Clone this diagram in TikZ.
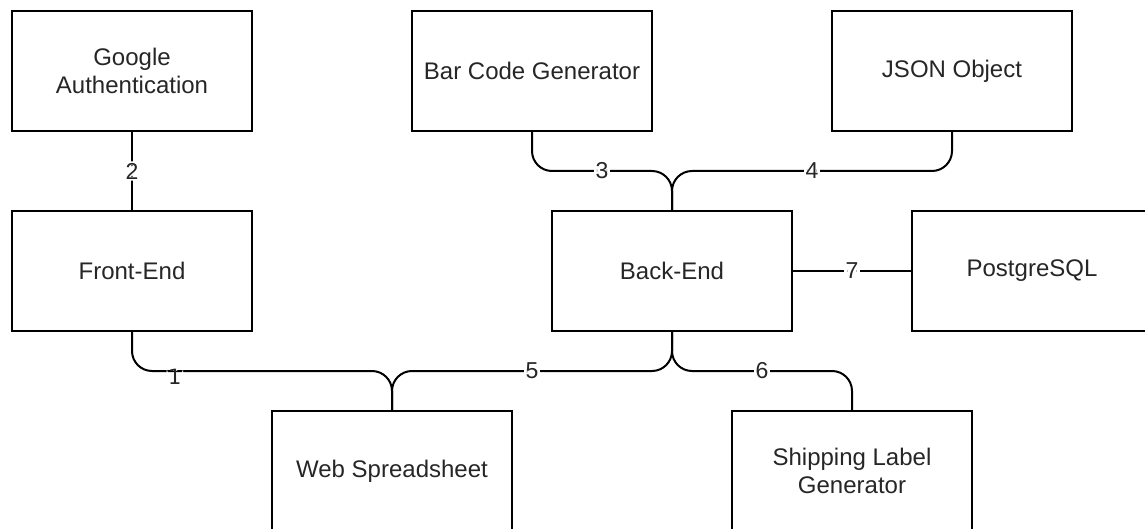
\documentclass[tikz,border=0pt]{standalone}
\usepackage{fontspec}
\setmainfont{Liberation Sans}
\newfontfamily\dejavu{DejaVu Sans}
\begin{document}
\begin{tikzpicture}[x=1pt,y=-1pt,
  box/.style={draw, line width=2pt, minimum width=240pt, minimum height=120pt, inner sep=0pt, align=center, text=black!85, font=\fontsize{24}{28}\selectfont},
  conn/.style={line width=2pt, rounded corners=20pt},
  lbl/.style={fill=white, inner sep=1.5pt, text=black!85, font=\fontsize{23}{26}\selectfont}]
\useasboundingbox (0,0) rectangle (1145,529);
\node[box] (ga) at (132,71) {Google\\Authentication};
\node[box] (bc) at (532,71) {Bar Code Generator};
\node[box] (json) at (952,71) {JSON Object};
\node[box] (fe) at (132,271) {Front-End};
\node[box] (be) at (672,271) {Back-End};
\node[box] (pg) at (1032,271) {PostgreSQL};
\node[box] (ws) at (392,471) {Web Spreadsheet};
\node[box] (sl) at (852,471) {Shipping Label\\Generator};
\coordinate (yA) at (0,171);
\coordinate (yB) at (0,371);
\draw[conn] (ga.south) -- node[lbl]{2} (fe.north);
\draw[conn] (bc.south) -- (bc.south |- yA) -- node[lbl]{3} (be.north |- yA) -- (be.north);
\draw[conn] (json.south) -- (json.south |- yA) -- node[lbl]{4} (be.north |- yA) -- (be.north);
\draw[conn] (be.east) -- node[lbl]{7} (pg.west);
\draw[conn] (fe.south) -- (fe.south |- yB) -- node[lbl, pos=0.165, yshift=-6pt, font=\dejavu\fontsize{21}{24}\selectfont]{1} (ws.north |- yB) -- (ws.north);
\draw[conn] (be.south) -- (be.south |- yB) -- node[lbl]{5} (ws.north |- yB) -- (ws.north);
\draw[conn] (be.south) -- (be.south |- yB) -- node[lbl]{6} (sl.north |- yB) -- (sl.north);
\end{tikzpicture}
\end{document}
